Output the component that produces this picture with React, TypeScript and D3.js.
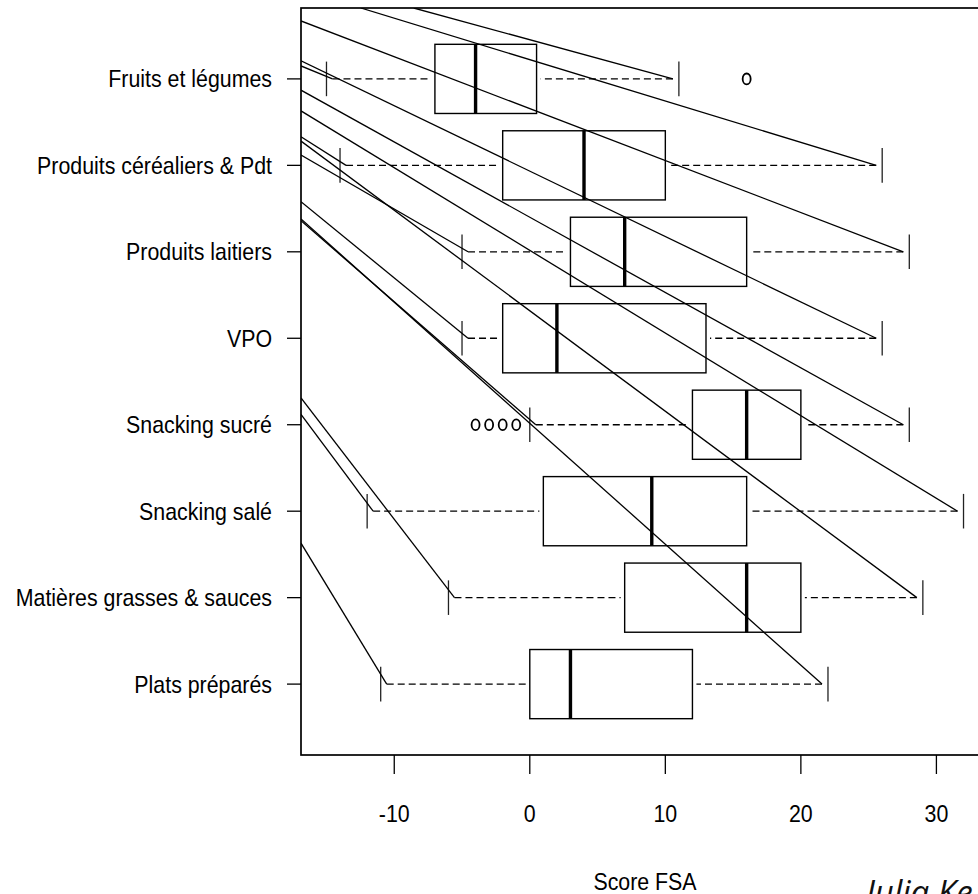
import { useEffect, useRef } from 'react';
import * as d3 from 'd3';

// categories, top to bottom
const categories = [
  'Fruits et légumes',
  'Produits céréaliers & Pdt',
  'Produits laitiers',
  'VPO',
  'Snacking sucré',
  'Snacking salé',
  'Matières grasses & sauces',
  'Plats préparés',
];

const whiskerLow = [-15, -14, -5, -5, 0, -12, -6, -11];
const q1 = [-7, -2, 3, -2, 12, 1, 7, 0];
const medians = [-4, 4, 7, 2, 16, 9, 16, 3];
const q3 = [0.5, 10, 16, 13, 20, 16, 20, 12];
const whiskerHigh = [11, 26, 28, 26, 28, 32, 29, 22];

const outlierCategory = [0, 4, 4, 4, 4];
const outlierValue = [16, -4, -3, -2, -1];

const xTicks = [-10, 0, 10, 20, 30];

// stray segments running into each whisker end (start point in data units)
const strayLowFromX = [-16.88, -16.88, -16.88, -16.88, -16.88, -16.88, -16.88, -16.88];
const strayLowFromY = [8.15, 7.33, 7.12, 6.58, 6.36, 4.12, 4.31, 2.63];
const strayHighFromX = [-8.56, -12.47, -16.88, -16.88, -16.88, -16.88, -16.88, -16.88];
const strayHighFromY = [8.82, 8.82, 8.67, 8.21, 7.87, 7.63, 7.28, 6.38];

const FONT = "'Liberation Sans', Arial, sans-serif";
const SQUEEZE = 0.89; // no narrow font installed, so squeeze horizontally

export default function App() {
  const svgRef = useRef<SVGSVGElement>(null);

  useEffect(() => {
    if (!svgRef.current) return;
    const width = 978;
    const height = 894;
    const plot = { left: 301, top: 8, bottom: 755, right: 989 };

    d3.select(svgRef.current).selectAll('*').remove();
    const svg = d3.select(svgRef.current).attr('width', width).attr('height', height);

    // R style 4% padding
    const allVals = [...whiskerLow, ...whiskerHigh, ...outlierValue];
    const [lo, hi] = d3.extent(allVals) as [number, number];
    const pad = (hi - lo) * 0.04;
    const x = d3.scaleLinear().domain([lo - pad, hi + pad]).range([plot.left, plot.right]);

    const n = categories.length;
    const yPad = n * 0.04;
    const y = d3.scaleLinear().domain([0.5 - yPad, n + 0.5 + yPad]).range([plot.bottom, plot.top]);
    const pos = (i: number) => n - i;

    const boxHalf = y(0) - y(0.4);
    const capHalf = y(0) - y(0.2);

    svg.append('defs').append('clipPath').attr('id', 'plotclip')
      .append('rect')
      .attr('x', plot.left).attr('y', plot.top)
      .attr('width', plot.right - plot.left).attr('height', plot.bottom - plot.top);

    const g = svg.append('g').attr('clip-path', 'url(#plotclip)');

    const idx = d3.range(n);

    // whiskers (dashed)
    g.selectAll('line.wlo').data(idx).enter().append('line')
      .attr('x1', (i) => x(whiskerLow[i]) + 6).attr('x2', (i) => x(q1[i]) - 4)
      .attr('y1', (i) => y(pos(i))).attr('y2', (i) => y(pos(i)))
      .attr('stroke', '#000').attr('stroke-width', 1.3).attr('stroke-dasharray', '7,4');
    g.selectAll('line.whi').data(idx).enter().append('line')
      .attr('x1', (i) => x(whiskerHigh[i]) - 6).attr('x2', (i) => x(q3[i]) + 4)
      .attr('y1', (i) => y(pos(i))).attr('y2', (i) => y(pos(i)))
      .attr('stroke', '#000').attr('stroke-width', 1.3).attr('stroke-dasharray', '7,4');

    // caps
    [whiskerLow, whiskerHigh].forEach((arr) => {
      g.selectAll(null).data(idx).enter().append('line')
        .attr('x1', (i) => x(arr[i])).attr('x2', (i) => x(arr[i]))
        .attr('y1', (i) => y(pos(i)) - capHalf).attr('y2', (i) => y(pos(i)) + capHalf)
        .attr('stroke', '#222').attr('stroke-width', 1.3);
    });

    // boxes
    g.selectAll('rect.box').data(idx).enter().append('rect')
      .attr('x', (i) => x(q1[i])).attr('width', (i) => x(q3[i]) - x(q1[i]))
      .attr('y', (i) => y(pos(i)) - boxHalf).attr('height', boxHalf * 2)
      .attr('fill', 'none').attr('stroke', '#000').attr('stroke-width', 1.4);

    // medians
    g.selectAll('line.med').data(idx).enter().append('line')
      .attr('x1', (i) => x(medians[i])).attr('x2', (i) => x(medians[i]))
      .attr('y1', (i) => y(pos(i)) - boxHalf).attr('y2', (i) => y(pos(i)) + boxHalf)
      .attr('stroke', '#000').attr('stroke-width', 3.4);

    // outliers
    g.selectAll('ellipse').data(d3.range(outlierValue.length)).enter().append('ellipse')
      .attr('cx', (k) => x(outlierValue[k])).attr('cy', (k) => y(pos(outlierCategory[k])))
      .attr('rx', 4).attr('ry', 5.4)
      .attr('fill', 'none').attr('stroke', '#000').attr('stroke-width', 1.8);

    // stray diagonal segments
    g.selectAll('line.slo').data(idx).enter().append('line')
      .attr('x1', (i) => x(strayLowFromX[i])).attr('y1', (i) => y(strayLowFromY[i]))
      .attr('x2', (i) => x(whiskerLow[i]) + 6).attr('y2', (i) => y(pos(i)))
      .attr('stroke', '#000').attr('stroke-width', 1.3);
    g.selectAll('line.shi').data(idx).enter().append('line')
      .attr('x1', (i) => x(strayHighFromX[i])).attr('y1', (i) => y(strayHighFromY[i]))
      .attr('x2', (i) => x(whiskerHigh[i]) - 6).attr('y2', (i) => y(pos(i)))
      .attr('stroke', '#000').attr('stroke-width', 1.3);

    // plot frame
    svg.append('rect')
      .attr('x', plot.left).attr('y', plot.top)
      .attr('width', plot.right - plot.left).attr('height', plot.bottom - plot.top)
      .attr('fill', 'none').attr('stroke', '#000').attr('stroke-width', 1.7);

    // y axis ticks
    svg.selectAll('line.ytick').data(idx).enter().append('line')
      .attr('x1', plot.left - 14).attr('x2', plot.left)
      .attr('y1', (i) => y(pos(i))).attr('y2', (i) => y(pos(i)))
      .attr('stroke', '#000').attr('stroke-width', 1.3);

    svg.selectAll('text.ylab').data(idx).enter().append('text')
      .attr('transform', (i) => `translate(${plot.left - 29},${y(pos(i))}) scale(${SQUEEZE},1)`)
      .attr('text-anchor', 'end').attr('dy', '0.35em')
      .attr('font-family', FONT).attr('font-size', 24).attr('fill', '#000')
      .text((i) => categories[i]);

    // x axis ticks
    svg.selectAll('line.xtick').data(xTicks).enter().append('line')
      .attr('x1', (d) => x(d)).attr('x2', (d) => x(d))
      .attr('y1', plot.bottom).attr('y2', plot.bottom + 19)
      .attr('stroke', '#000').attr('stroke-width', 1.3);

    svg.selectAll('text.xlab').data(xTicks).enter().append('text')
      .attr('transform', (d) => `translate(${x(d)},${plot.bottom + 67}) scale(${SQUEEZE},1)`)
      .attr('text-anchor', 'middle')
      .attr('font-family', FONT).attr('font-size', 24).attr('fill', '#000')
      .text((d) => String(d));

    svg.append('text')
      .attr('transform', `translate(${(plot.left + plot.right) / 2},890) scale(${SQUEEZE},1)`)
      .attr('text-anchor', 'middle')
      .attr('font-family', FONT).attr('font-size', 24).attr('fill', '#000')
      .text('Score FSA');

    svg.append('text')
      .attr('x', 866).attr('y', 904)
      .attr('font-family', "'Open Sans', 'DejaVu Sans', sans-serif")
      .attr('font-style', 'italic').attr('font-size', 33).attr('fill', '#111')
      .text('Julia Ke');
  }, []);

  return (
    <svg
      ref={svgRef}
      style={{ position: 'absolute', left: 0, top: 0, background: '#fff' }}
    />
  );
}
